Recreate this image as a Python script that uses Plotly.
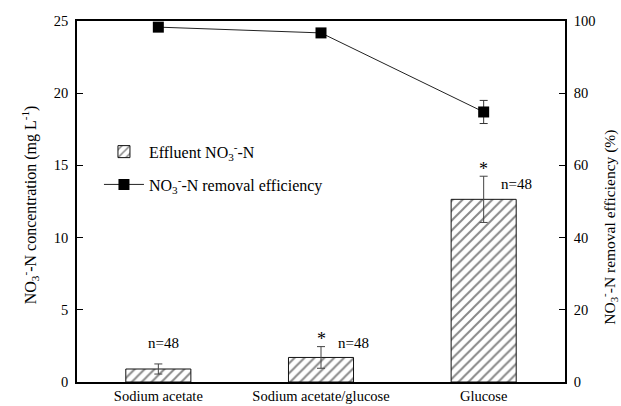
import plotly.graph_objects as go

categories = ["Sodium acetate", "Sodium acetate/glucose", "Glucose"]
effluent_no3 = [0.9, 1.7, 12.65]
effluent_err = [0.35, 0.75, 1.6]
removal_eff = [98.3, 96.7, 74.8]
removal_err = [0.0, 0.0, 3.2]
n_labels = ["n=48", "n=48", "n=48"]
star_flags = [False, True, True]
left_ticks = [0, 5, 10, 15, 20, 25]
right_ticks = [0, 20, 40, 60, 80, 100]

xpos = list(range(len(categories)))
FONT = "Liberation Serif"

def fnt(size=15):
    return dict(family=FONT, size=size, color="black")

fig = go.Figure()
fig.add_trace(go.Bar(
    x=xpos, y=effluent_no3, width=0.4,
    name="Effluent NO<sub>3</sub><sup>-</sup>-N", legendgroup="a",
    marker=dict(color="white", line=dict(color="#111", width=1),
                pattern=dict(shape="/", size=7, solidity=0.28, fgcolor="#111", bgcolor="white")),
    error_y=dict(type="data", array=effluent_err, color="#444", thickness=1, width=4),
))
fig.add_trace(go.Scatter(
    x=xpos, y=removal_eff, yaxis="y2", mode="lines+markers",
    name="NO<sub>3</sub><sup>-</sup>-N removal efficiency", legendgroup="b",
    line=dict(color="#222", width=1),
    marker=dict(symbol="square", size=11, color="black"),
    error_y=dict(type="data", array=removal_err, color="#333", thickness=1, width=4),
))

annotations = []
for i, (v, e) in enumerate(zip(effluent_no3, effluent_err)):
    top = v + e
    if star_flags[i]:
        annotations.append(dict(x=i, y=top + 0.5, xref="x", yref="y", text="*", showarrow=False,
                                font=fnt(18), yanchor="middle"))
        annotations.append(dict(x=i + 0.2, y=top - 0.57 if i == 2 else top + 0.22, xref="x", yref="y",
                                text=n_labels[i], showarrow=False, font=fnt(15), yanchor="middle"))
    else:
        annotations.append(dict(x=i + 0.03, y=top + 1.42, xref="x", yref="y", text=n_labels[i], showarrow=False,
                                font=fnt(15), yanchor="middle"))

annotations.append(dict(x=-0.096, y=0.49, xref="paper", yref="paper",
                        text="NO<sub>3</sub><sup>-</sup>-N concentration (mg L<sup>-1</sup>)",
                        textangle=-90, showarrow=False, xanchor="center", yanchor="middle",
                        font=fnt(16)))
annotations.append(dict(x=1.09, y=0.43, xref="paper", yref="paper",
                        text="NO<sub>3</sub><sup>-</sup>-N removal efficiency (%)",
                        textangle=-90, showarrow=False, xanchor="center", yanchor="middle",
                        font=fnt(15.5)))

axis_common = dict(showline=True, linecolor="black", linewidth=1.5, ticks="inside", ticklen=6,
                   tickcolor="black", showgrid=False, zeroline=False, tickfont=fnt(14.5),
                   automargin=False, ticklabelstandoff=4)

fig.update_layout(
    width=621, height=406,
    margin=dict(l=77, r=56, t=21, b=24),
    paper_bgcolor="white", plot_bgcolor="white",
    font=fnt(15),
    xaxis=dict(range=[-0.5, 2.5], tickvals=xpos, ticktext=categories, showline=True, linecolor="black",
               linewidth=1.5, mirror=True, ticks="", showgrid=False, zeroline=False, tickfont=fnt(14.5),
               automargin=False),
    yaxis=dict(range=[0, 25], tickvals=left_ticks, mirror=False, **axis_common),
    yaxis2=dict(range=[0, 100], tickvals=right_ticks, overlaying="y", side="right", **axis_common),
    legend=dict(x=0.045, y=0.685, xanchor="left", yanchor="top", bgcolor="rgba(0,0,0,0)",
                font=fnt(16), itemwidth=40, traceorder="grouped", tracegroupgap=9),
    showlegend=True,
    annotations=annotations,
    bargap=0.6,
)

fig.write_html("out.html")
